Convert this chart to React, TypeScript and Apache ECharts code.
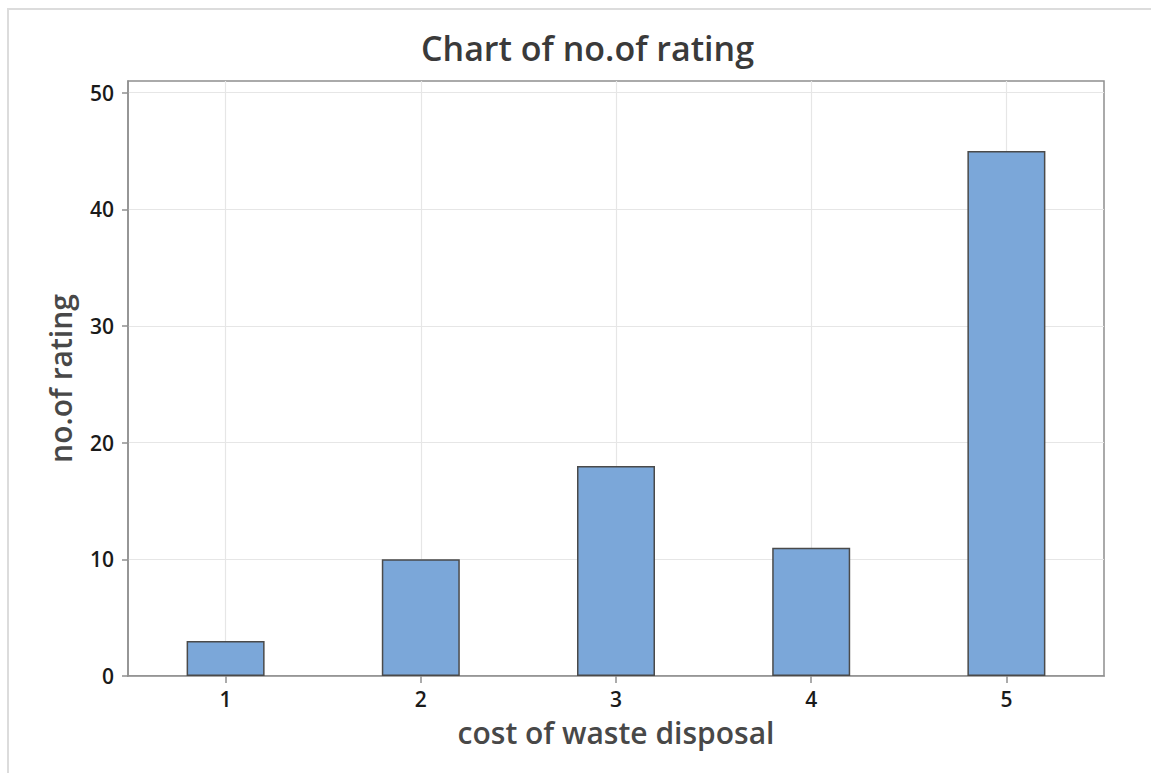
import React, { useEffect, useRef } from "react";
import * as echarts from "echarts";

const categories = ["1", "2", "3", "4", "5"];
const ratingCounts = [3, 10, 18, 11, 45];
const yTicks = [0, 10, 20, 30, 40, 50];
const titleText = "Chart of no.of rating";
const xTitle = "cost of waste disposal";
const yTitle = "no.of rating";

export default function App() {
  const ref = useRef<HTMLDivElement>(null);
  useEffect(() => {
    if (!ref.current) return;
    const chart = echarts.init(ref.current, null, { renderer: "svg" });
    const font = "'Open Sans', 'Noto Sans', sans-serif";
    chart.setOption({
      animation: false,
      backgroundColor: "#ffffff",
      textStyle: { fontFamily: font },
      title: {
        text: titleText,
        left: 416,
        top: 26,
        textStyle: { fontFamily: font, fontSize: 34, fontWeight: 600, color: "#3a3a3a" },
      },
      graphic: [
        {
          type: "rect",
          shape: { x: 8, y: 9, width: 1200, height: 800 },
          style: { fill: "none", stroke: "#dcdcdc", lineWidth: 2 },
          silent: true,
          z: -1,
        },
      ],
      grid: {
        left: 128,
        top: 81,
        width: 976,
        height: 595,
        show: true,
        borderColor: "#8f8f8f",
        borderWidth: 1.5,
        backgroundColor: "transparent",
      },
      xAxis: {
        type: "category",
        data: categories,
        boundaryGap: true,
        name: xTitle,
        nameLocation: "middle",
        nameGap: 41,
        nameTextStyle: { fontFamily: font, fontSize: 30, fontWeight: 600, color: "#484848" },
        axisLine: { show: true, lineStyle: { color: "#8f8f8f", width: 1.5 } },
        axisTick: { show: true, alignWithLabel: true, length: 7, lineStyle: { color: "#8f8f8f", width: 1.5 } },
        axisLabel: { fontFamily: font, fontSize: 21, fontWeight: 600, color: "#1a1a1a", margin: 12 },
        splitLine: { show: true, alignWithLabel: true, lineStyle: { color: "#e6e6e6", width: 1.2 } },
      },
      yAxis: {
        type: "value",
        min: 0,
        max: 51,
        interval: 10,
        name: yTitle,
        nameLocation: "middle",
        nameGap: 53,
        nameRotate: 90,
        nameTextStyle: { fontFamily: font, fontSize: 30, fontWeight: 600, color: "#484848" },
        axisLine: { show: true, lineStyle: { color: "#8f8f8f", width: 1.5 } },
        axisTick: { show: true, length: 6, customValues: yTicks, lineStyle: { color: "#8f8f8f", width: 1.5 } },
        axisLabel: { fontFamily: font, fontSize: 21, fontWeight: 600, color: "#1a1a1a", margin: 14, customValues: yTicks },
        splitLine: { show: true, lineStyle: { color: "#e6e6e6", width: 1.2 } },
      },
      series: [
        {
          type: "bar",
          data: ratingCounts,
          barWidth: 78,
          itemStyle: { color: "#7ba7d9", borderColor: "#4a4a4a", borderWidth: 1.5 },
        },
      ],
    });
    return () => chart.dispose();
  }, []);
  return (
    <div
      ref={ref}
      style={{ position: "absolute", left: 0, top: 0, width: 1151, height: 773 }}
    />
  );
}
